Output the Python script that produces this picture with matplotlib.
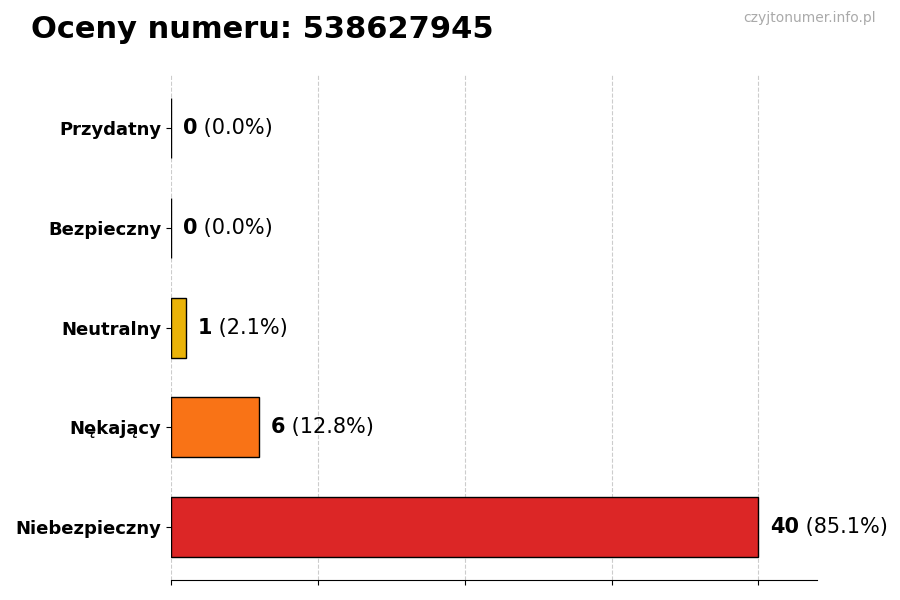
import matplotlib
matplotlib.use("Agg")
import matplotlib.pyplot as plt

kategorie = ["Niebezpieczny", "Nękający", "Neutralny", "Bezpieczny", "Przydatny"]
liczby = [40, 6, 1, 0, 0]
procenty = ["85.1%", "12.8%", "2.1%", "0.0%", "0.0%"]
kolory = ["#dc2626", "#f97316", "#eab308", "#22c55e", "#16a34a"]

fig = plt.figure(figsize=(9, 6), dpi=100)
ax = fig.add_axes([0.19, 0.033, 0.718, 0.842])

pozycje = list(range(len(kategorie)))
ax.barh(pozycje, liczby, height=0.6, color=kolory, edgecolor="black", linewidth=1, zorder=3)

for y, n, p in zip(pozycje, liczby, procenty):
    t = ax.text(n + 0.8, y, str(n), fontsize=15, fontweight="bold", va="center", ha="left")
    ax.annotate(f" ({p})", xy=(1, 0.5), xycoords=t, va="center", ha="left", fontsize=15)

ax.set_yticks(pozycje)
ax.set_yticklabels(kategorie, fontsize=13, fontweight="bold")
ax.set_xticks([0, 10, 20, 30, 40])
ax.set_xticklabels([])
ax.set_xlim(0, 44)
ax.set_ylim(-0.53, 4.53)
ax.grid(axis="x", linestyle="--", color="#cccccc", zorder=0)
for s in ["top", "right", "left"]:
    ax.spines[s].set_visible(False)

fig.text(0.034, 0.95, "Oceny numeru: 538627945", fontsize=22, fontweight="bold", va="center")
fig.text(0.973, 0.97, "czyjtonumer.info.pl", fontsize=10, color="#aaaaaa", ha="right", va="center")

fig.savefig("out.png")
